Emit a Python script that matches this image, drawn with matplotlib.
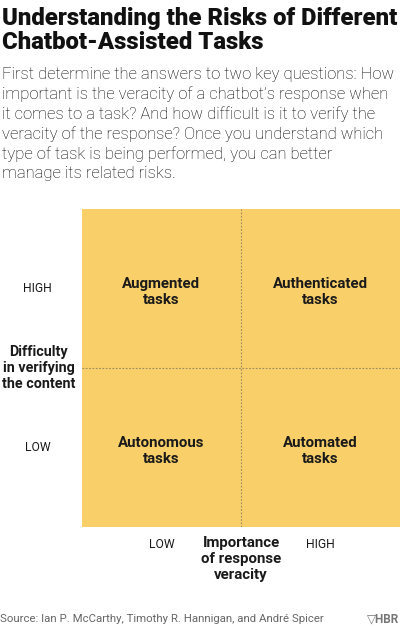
import matplotlib
matplotlib.use("Agg")
from matplotlib import pyplot as plt

# quadrant grid: columns = importance (low, high), rows = difficulty (low, high)
x_levels = ["LOW", "HIGH"]
y_levels = ["LOW", "HIGH"]
quadrants = [
    # (col, row, label)
    (0, 1, "Augmented\ntasks"),
    (1, 1, "Authenticated\ntasks"),
    (0, 0, "Autonomous\ntasks"),
    (1, 0, "Automated\ntasks"),
]
x_title = "Importance\nof response\nveracity"
y_title = "Difficulty\nin verifying\nthe content"

title = "Understanding the Risks of Different\nChatbot-Assisted Tasks"
subtitle = ("First determine the answers to two key questions: How\n"
            "important is the veracity of a chatbot\u2019s response when\n"
            "it comes to a task? And how difficult is it to verify the\n"
            "veracity of the response? Once you understand which\n"
            "type of task is being performed, you can better\n"
            "manage its related risks.")
source = "Source: Ian P. McCarthy, Timothy R. Hannigan, and Andr\u00e9 Spicer"

W, H = 400, 627
fig = plt.figure(figsize=(W / 100, H / 100), dpi=100)
fill = "#f9cf6a"
dark = "#1a1a1a"
font = "Roboto"

ax = fig.add_axes([82 / W, 1 - 527 / H, 318 / W, 318 / H])
for col, row, label in quadrants:
    ax.bar(col + 0.5, 1, width=1, bottom=row, color=fill, linewidth=0)
    ax.text(col + 0.5, row + 0.5 - 0.024, label, ha="center", va="center",
            fontsize=10.8, fontweight="bold", color=dark, linespacing=1.18,
            family=font)
ax.axvline(1, color="#9a8a60", lw=0.8, ls=(0, (1.5, 1.5)))
ax.axhline(1, color="#9a8a60", lw=0.8, ls=(0, (1.5, 1.5)))
ax.set_xlim(0, 2)
ax.set_ylim(0, 2)
ax.axis("off")

# level labels
for i, lab in enumerate(x_levels):
    ax.text(i + 0.5, -0.107, lab, ha="center", va="center", fontsize=8.7,
            color=dark, family=font, clip_on=False)
for i, lab in enumerate(y_levels):
    ax.text(-0.28, i + 0.5, lab, ha="center", va="center", fontsize=8.7,
            color=dark, family=font, clip_on=False)

ax.text(1, -0.058, x_title, ha="center", va="top", fontsize=10.8,
        fontweight="bold", color=dark, family=font, linespacing=1.18,
        clip_on=False)
ax.text(-0.272, 1.0, y_title, ha="center", va="center", fontsize=10.4,
        fontweight="bold", color=dark, family=font, linespacing=1.18,
        clip_on=False)

fig.text(2 / W, 1 - 7 / H, title, ha="left", va="top", fontsize=17.2,
         fontweight="heavy", color="#111111", family=font,
         linespacing=1.05)
fig.text(2 / W, 1 - 67 / H, subtitle, ha="left", va="top", fontsize=12,
         fontweight="light", color="#000000", family=font,
         linespacing=1.34)
fig.text(0 / W, 1 - 619 / H, source, ha="left", va="center", fontsize=8.2,
         color="#666666", family=font)
fig.text(399 / W, 1 - 619 / H, "\u25bdHBR", ha="right", va="center",
         fontsize=8.5, fontweight="bold", color="#777777",
         family=[font, "DejaVu Sans"])

fig.savefig("out.png", dpi=100)
